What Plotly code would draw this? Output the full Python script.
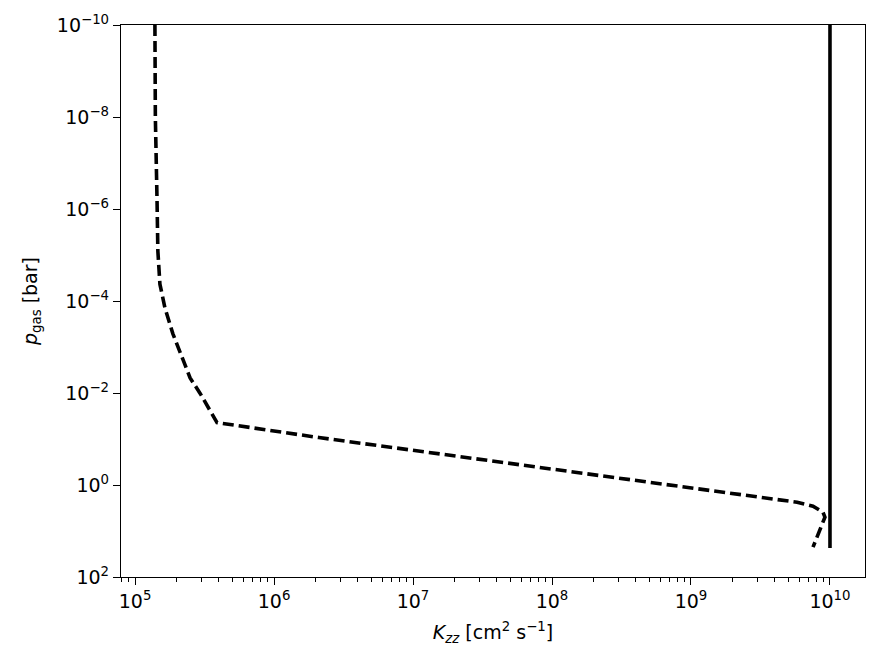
import plotly.graph_objects as go

# Dashed profile (K_zz in cm^2 s^-1, p_gas in bar)
kzz_dashed = [1.39e5, 1.40e5, 1.44e5, 1.46e5, 1.51e5, 1.64e5, 1.87e5, 2.18e5, 2.49e5, 2.94e5, 3.89e5,
              2.1e6, 1.22e9, 5.8e9, 7.55e9, 8.9e9, 9.2e9, 7.55e9]
p_dashed = [1e-10, 1e-8, 6.8e-7, 8.3e-6, 4.3e-5, 1.4e-4, 5.1e-4, 1.7e-3, 4.7e-3, 1.02e-2, 4.4e-2,
            9.3e-2, 1.3, 2.37, 2.88, 3.9, 5.0, 22.4]

# Solid profile
kzz_solid = [1e10, 1e10]
p_solid = [1e-10, 23.4]

x_tickvals = [1e5, 1e6, 1e7, 1e8, 1e9, 1e10]
x_ticktext = ["10<sup>5</sup>", "10<sup>6</sup>", "10<sup>7</sup>", "10<sup>8</sup>",
              "10<sup>9</sup>", "10<sup>10</sup>"]
y_tickvals = [1e-10, 1e-8, 1e-6, 1e-4, 1e-2, 1e0, 1e2]
y_ticktext = ["10<sup>−10</sup>", "10<sup>−8</sup>", "10<sup>−6</sup>", "10<sup>−4</sup>",
              "10<sup>−2</sup>", "10<sup>0</sup>", "10<sup>2</sup>"]

x_minor = [m * 10 ** e for e in range(4, 11) for m in range(2, 10)]

fig = go.Figure()
fig.add_trace(go.Scatter(x=kzz_dashed, y=p_dashed, mode="lines",
                         line=dict(color="black", width=3.6, dash="11px,5px"),
                         showlegend=False))
fig.add_trace(go.Scatter(x=kzz_solid, y=p_solid, mode="lines",
                         line=dict(color="black", width=3.6),
                         showlegend=False))

axis_common = dict(showgrid=False, zeroline=False, showline=True, linecolor="black",
                   linewidth=1.3, mirror=True, ticks="outside", ticklen=7, tickwidth=1.3,
                   tickcolor="black", tickfont=dict(family="DejaVu Sans", size=19, color="black"))

fig.update_xaxes(type="log", range=[4.899, 10.252], tickvals=x_tickvals, ticktext=x_ticktext,
                 minor=dict(tickvals=x_minor, ticks="outside", ticklen=4, tickwidth=1, tickcolor="black"),
                 title=dict(text="<i>K</i><sub><i>zz</i></sub> [cm<sup>2</sup> s<sup>−1</sup>]",
                            font=dict(family="DejaVu Sans", size=19, color="black"), standoff=14),
                 **axis_common)
fig.update_yaxes(type="log", range=[2, -10], tickvals=y_tickvals, ticktext=y_ticktext,
                 title=dict(text="<i>p</i><sub>gas</sub> [bar]",
                            font=dict(family="DejaVu Sans", size=19, color="black"), standoff=14),
                 **axis_common)

fig.update_layout(width=888, height=665, margin=dict(l=121, r=23, t=23, b=88),
                  plot_bgcolor="white", paper_bgcolor="white")

fig.write_html("out.html")
